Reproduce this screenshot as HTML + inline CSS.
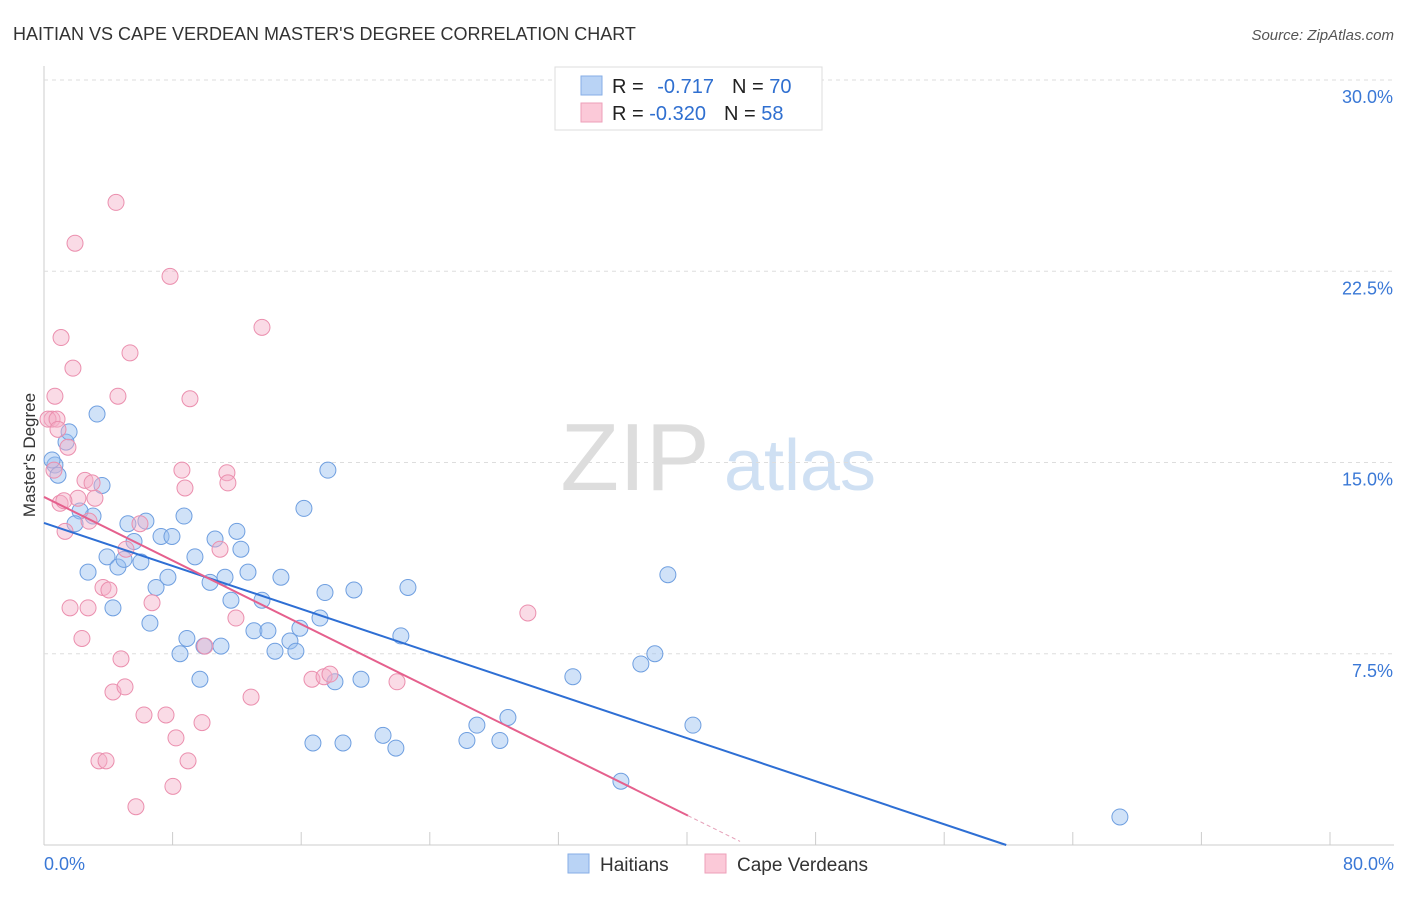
<!DOCTYPE html>
<html><head><meta charset="utf-8"><style>
body{margin:0;background:#fff;font-family:"Liberation Sans",sans-serif;}
svg text{font-family:"Liberation Sans",sans-serif;}
</style></head><body>
<svg id="c" width="1406" height="892">
<text x="13" y="40" font-size="18" fill="#333">HAITIAN VS CAPE VERDEAN MASTER'S DEGREE CORRELATION CHART</text>
<text x="1394" y="40" font-size="15" fill="#555" font-style="italic" text-anchor="end">Source: ZipAtlas.com</text>
<text x="35" y="455" font-size="17" fill="#333" text-anchor="middle" transform="rotate(-90 35 455)">Master's Degree</text>
<g><text x="635" y="490" font-size="96" fill="#ddd" font-family="Liberation Serif" text-anchor="middle">ZIP</text><text x="800" y="490" font-size="72" fill="#cfe0f3" text-anchor="middle">atlas</text></g>
<g id="grid"></g><g id="pts"></g><g id="lines"></g>
<g>
<rect x="555" y="67" width="267" height="63" fill="#fff" stroke="#ddd"/>
<rect x="581" y="76" width="21" height="19" fill="#b9d3f5" stroke="#86aee6"/>
<rect x="581" y="103" width="21" height="19" fill="#fbc9d8" stroke="#ee9fb9"/>
<text x="612" y="93" font-size="20" fill="#222">R = <tspan fill="#2f6fd0" dx="8">-0.717</tspan><tspan dx="18" fill="#222">N = </tspan><tspan fill="#2f6fd0">70</tspan></text>
<text x="612" y="120" font-size="20" fill="#222">R = <tspan fill="#2f6fd0">-0.320</tspan><tspan dx="18" fill="#222">N = </tspan><tspan fill="#2f6fd0">58</tspan></text>
</g>
<g>
<rect x="568" y="854" width="21" height="19" fill="#b9d3f5" stroke="#86aee6"/>
<text x="600" y="871" font-size="19" fill="#333">Haitians</text>
<rect x="705" y="854" width="21" height="19" fill="#fbc9d8" stroke="#ee9fb9"/>
<text x="737" y="871" font-size="19" fill="#333">Cape Verdeans</text>
</g>
<text x="44" y="870" font-size="18" fill="#3a78d6">0.0%</text>
<text x="1394" y="870" font-size="18" fill="#3a78d6" text-anchor="end">80.0%</text>
</svg>
<script>
const yTicks=[7.5,15,22.5,30];
const yTickLabels=["7.5%","15.0%","22.5%","30.0%"];
const blueX=[0.68,0.5,0.87,1.37,1.56,3.3,3.61,3.05,2.24,1.93,2.74,3.92,4.29,4.6,4.98,5.22,5.6,6.03,6.34,6.59,6.97,7.28,7.71,7.96,8.46,8.71,8.89,9.39,9.7,9.95,10.33,10.64,11.01,11.26,11.63,12,12.25,12.69,13.06,13.56,13.93,14.37,14.74,15.3,15.67,15.92,16.17,16.73,17.17,17.48,17.66,18.1,18.6,19.28,19.72,21.09,21.89,22.2,22.64,26.31,26.93,28.36,28.86,32.9,35.89,37.13,38,38.81,40.37,66.93];
const blueY=[14.9,15.1,14.5,15.8,16.2,16.9,14.1,12.9,13.1,12.6,10.7,11.3,9.3,10.9,11.2,12.6,11.9,11.1,12.7,8.7,10.1,12.1,10.5,12.1,7.5,12.9,8.1,11.3,6.5,7.8,10.3,12,7.8,10.5,9.6,12.3,11.6,10.7,8.4,9.6,8.4,7.6,10.5,8,7.6,8.5,13.2,4,8.9,9.9,14.7,6.4,4,10,6.5,4.3,3.8,8.2,10.1,4.1,4.7,4.1,5,6.6,2.5,7.1,7.5,10.6,4.7,1.1];
const pinkX=[0.5,0.68,0.25,0.81,1.06,1.49,1.8,1.93,2.11,1,1.31,1.24,1.62,2.36,2.55,2.74,2.8,2.99,3.17,3.42,3.67,3.86,4.04,4.29,4.48,4.6,4.79,5.04,5.1,5.35,5.72,5.97,6.22,6.72,7.59,7.84,8.02,8.21,8.58,8.77,8.96,9.08,9.83,10.01,10.95,11.38,11.44,11.94,12.88,13.56,16.67,17.42,17.79,21.96,30.1,0.62,0.87];
const pinkY=[16.7,17.6,16.7,16.7,19.9,15.6,18.7,23.6,13.6,13.4,12.3,13.5,9.3,8.1,14.3,9.3,12.7,14.2,13.6,3.3,10.1,3.3,10,6,25.2,17.6,7.3,6.2,11.6,19.3,1.5,12.6,5.1,9.5,5.1,22.3,2.3,4.2,14.7,14,3.3,17.5,4.8,7.8,11.6,14.6,14.2,8.9,5.8,20.3,6.5,6.6,6.7,6.4,9.1,14.7,16.3];
const blueTrend=[12.63,-0.211];
const pinkTrend=[13.65,-0.312];
const pinkSolidEnd=40.06, pinkDashEnd=43.3;
const NS="http://www.w3.org/2000/svg";
const X=v=>44+v/80*1286, Y=v=>845-v*25.5;
function mk(t,a,p){const e=document.createElementNS(NS,t);for(const k in a)e.setAttribute(k,a[k]);p.appendChild(e);return e;}
const grid=document.getElementById('grid');
mk('line',{x1:44,y1:66,x2:44,y2:845,stroke:'#ccc'},grid);
mk('line',{x1:44,y1:845,x2:1394,y2:845,stroke:'#ccc'},grid);
for(let i=0;i<=10;i++){const l=mk('line',{x1:44+i*128.6,y1:845,x2:44+i*128.6,y2:832,stroke:'#ccc'},grid);}
yTicks.forEach((t,i)=>{
 const l=mk('line',{x1:44,y1:Y(t),x2:1394,y2:Y(t),stroke:'#ddd','stroke-dasharray':'4,4'},grid);
 
 
 const tx=mk('text',{x:1393,y:Y(t)+23,'font-size':18,fill:'#3a78d6','text-anchor':'end'},grid);
 tx.textContent=yTickLabels[i];
 
 
});
const pts=document.getElementById('pts');
blueX.forEach((x,i)=>{const c=mk('circle',{cx:X(x),cy:Y(blueY[i]),r:8,fill:'rgba(150,190,240,0.45)',stroke:'#6f9fe0','stroke-width':1},pts);
 
 });
pinkX.forEach((x,i)=>{const c=mk('circle',{cx:X(x),cy:Y(pinkY[i]),r:8,fill:'rgba(245,175,200,0.45)',stroke:'#eb8fae','stroke-width':1},pts);
 
 });
const lines=document.getElementById('lines');
const bEnd=-blueTrend[0]/blueTrend[1];
const bl=mk('line',{x1:X(0),y1:Y(blueTrend[0]),x2:X(bEnd),y2:Y(0),stroke:'#2e6fd4','stroke-width':2},lines);


const pl=mk('line',{x1:X(0),y1:Y(pinkTrend[0]),x2:X(pinkSolidEnd),y2:Y(pinkTrend[0]+pinkTrend[1]*pinkSolidEnd),stroke:'#e5608d','stroke-width':2},lines);


const pd=mk('line',{x1:X(pinkSolidEnd),y1:Y(pinkTrend[0]+pinkTrend[1]*pinkSolidEnd),x2:X(pinkDashEnd),y2:Y(pinkTrend[0]+pinkTrend[1]*pinkDashEnd),stroke:'#e5a0b8','stroke-width':1,'stroke-dasharray':'4,3'},lines);


</script>
</body></html>
